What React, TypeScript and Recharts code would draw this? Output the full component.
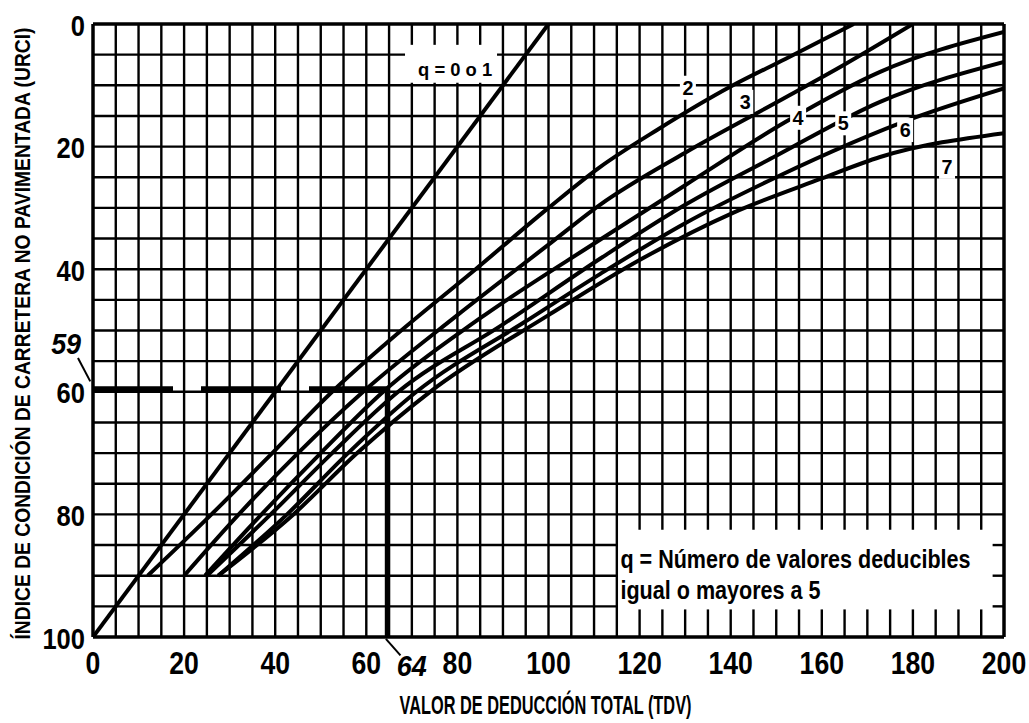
import React from 'react';
import { LineChart, Line, XAxis, YAxis, ReferenceLine, ReferenceDot } from 'recharts';

// ---- data ----
const xTicks = [0, 20, 40, 60, 80, 100, 120, 140, 160, 180, 200];
const yTicks = [0, 20, 40, 60, 80, 100];
const gridStep = 5;

const q01 = [{ x: 0, y: 100 }, { x: 100, y: 0 }];
const q2 = [
  { x: 12, y: 90 }, { x: 26, y: 80 }, { x: 40, y: 69.5 }, { x: 52.5, y: 60 }, { x: 64.5, y: 52 },
  { x: 84, y: 40 }, { x: 100, y: 30 }, { x: 111, y: 23.5 }, { x: 124, y: 17.2 }, { x: 140, y: 10.2 },
  { x: 152, y: 5.7 }, { x: 167, y: 0 },
];
const q3 = [
  { x: 20, y: 90 }, { x: 32, y: 80 }, { x: 45, y: 70 }, { x: 59.3, y: 60 }, { x: 80, y: 47.5 },
  { x: 100, y: 36 }, { x: 111.3, y: 29.5 }, { x: 130, y: 21 }, { x: 150, y: 12.8 }, { x: 165, y: 6.6 },
  { x: 180, y: 0 },
];
const q4 = [
  { x: 24.6, y: 90 }, { x: 37, y: 80 }, { x: 50, y: 70 }, { x: 63.7, y: 60 }, { x: 85, y: 48 },
  { x: 111.3, y: 35.2 }, { x: 130, y: 26.3 }, { x: 152, y: 16 }, { x: 172.8, y: 7.8 }, { x: 200, y: 1.3 },
];
const q5 = [
  { x: 25, y: 90 }, { x: 39, y: 80 }, { x: 52.5, y: 70 }, { x: 67, y: 60 }, { x: 90, y: 49 },
  { x: 111.3, y: 38.3 }, { x: 130, y: 29.5 }, { x: 150, y: 21.5 }, { x: 172.8, y: 12.7 }, { x: 200, y: 6.2 },
];
const q6 = [
  { x: 27.5, y: 90 }, { x: 42.6, y: 80 }, { x: 56, y: 70 }, { x: 71, y: 60 }, { x: 95, y: 48.5 },
  { x: 111.3, y: 40.8 }, { x: 130, y: 32.5 }, { x: 150, y: 25 }, { x: 180.7, y: 15.2 }, { x: 200, y: 10.5 },
];
const q7 = [
  { x: 27.5, y: 90 }, { x: 44, y: 80 }, { x: 58, y: 70 }, { x: 74, y: 60 }, { x: 100, y: 47.5 },
  { x: 120, y: 38.5 }, { x: 140.5, y: 30.8 }, { x: 160, y: 25.2 }, { x: 172.8, y: 21.7 }, { x: 200, y: 17.8 },
];
const curves = [q2, q3, q4, q5, q6, q7];

const curveLabels = [
  { x: 130.6, y: 10.4, text: '2' },
  { x: 143.2, y: 12.7, text: '3' },
  { x: 154.8, y: 15.3, text: '4' },
  { x: 164.7, y: 16.2, text: '5' },
  { x: 178.3, y: 17.3, text: '6' },
  { x: 187.5, y: 23.3, text: '7' },
];

const exampleURCI = 59;
const exampleTDV = 64;
const exampleLineY = 59.5;
const exampleLineX = 64.5;

const yTitle = 'ÍNDICE DE CONDICIÓN DE CARRETERA NO PAVIMENTADA (URCI)';
const xTitle = 'VALOR DE DEDUCCIÓN TOTAL (TDV)';
const noteLine1 = 'q = Número de valores deducibles';
const noteLine2 = 'igual o mayores a 5';
const q01Label = 'q = 0 o 1';

// blank (white) windows in the printed grid, in data units
const gridGaps = [
  { x1: 115, x2: 197.5, y1: 82.5, y2: 95.5 },
  { x1: 68.5, x2: 88.7, y1: 3.4, y2: 9.6 },
];

const xGrid: number[] = [];
for (let v = 0; v <= 200; v += gridStep) xGrid.push(v);
const yGrid: number[] = [];
for (let v = 0; v <= 100; v += gridStep) yGrid.push(v);

type Seg = { key: string; a: { x: number; y: number }; b: { x: number; y: number }; w: number };
const gridSegs: Seg[] = [];
xGrid.forEach((v) => {
  const w = v === 0 || v === 200 ? 3.5 : 2.4;
  let parts: [number, number][] = [[0, 100]];
  gridGaps.forEach((g) => {
    if (v > g.x1 && v < g.x2) {
      const next: [number, number][] = [];
      parts.forEach(([s, e]) => {
        if (g.y2 <= s || g.y1 >= e) next.push([s, e]);
        else {
          if (g.y1 > s) next.push([s, g.y1]);
          if (g.y2 < e) next.push([g.y2, e]);
        }
      });
      parts = next;
    }
  });
  parts.forEach(([s, e], i) => gridSegs.push({ key: `vx${v}_${i}`, a: { x: v, y: s }, b: { x: v, y: e }, w }));
});
yGrid.forEach((v) => {
  const w = v === 0 || v === 100 ? 3.5 : 2.4;
  let parts: [number, number][] = [[0, 200]];
  gridGaps.forEach((g) => {
    if (v > g.y1 && v < g.y2) {
      const next: [number, number][] = [];
      parts.forEach(([s, e]) => {
        if (g.x2 <= s || g.x1 >= e) next.push([s, e]);
        else {
          if (g.x1 > s) next.push([s, g.x1]);
          if (g.x2 < e) next.push([g.x2, e]);
        }
      });
      parts = next;
    }
  });
  parts.forEach(([s, e], i) => gridSegs.push({ key: `hy${v}_${i}`, a: { x: s, y: v }, b: { x: e, y: v }, w }));
});

const FONT = "'Liberation Sans', Arial, sans-serif";

function CText(props: any) {
  const { x, y, text, size, width, anchor = 'middle', italic = false, weight = 'bold', rotate = 0 } = props;
  return (
    <text
      x={x}
      y={y}
      fontFamily={FONT}
      fontSize={size}
      fontWeight={weight}
      fontStyle={italic ? 'italic' : 'normal'}
      textAnchor={anchor}
      dominantBaseline="central"
      textLength={width}
      lengthAdjust="spacingAndGlyphs"
      fill="#000"
      transform={rotate ? `rotate(${rotate} ${x} ${y})` : undefined}
    >
      {text}
    </text>
  );
}

const XTick = (p: any) => {
  const s = String(p.payload.value);
  return <CText x={p.x} y={p.y + 26} text={s} size={31} width={s.length * 14.8} />;
};
const YTick = (p: any) => {
  const s = String(p.payload.value);
  return <CText x={p.x - 8} y={p.y + 1} text={s} size={30} width={s.length * 14.2} anchor="end" />;
};

const YTitle = (p: any) => {
  const vb = p.viewBox;
  return <CText x={vb.x - 11} y={vb.y + vb.height / 2 + 3} text={yTitle} size={22} width={612} rotate={-90} />;
};
const XTitle = (p: any) => {
  const vb = p.viewBox;
  return <CText x={vb.x + vb.width / 2 - 3} y={vb.y + 68} text={xTitle} size={25} width={292} />;
};

const labelShape = (text: string, w: number, size: number, tw?: number) => (p: any) => (
  <g>
    <rect x={p.cx - w / 2} y={p.cy - 12} width={w} height={24} fill="#fff" />
    <CText x={p.cx} y={p.cy} text={text} size={size} width={tw} weight="bold" />
  </g>
);
const plainText = (text: string, size: number, width: number, italic = false, anchor = 'middle') => (p: any) => (
  <CText x={p.cx} y={p.cy} text={text} size={size} width={width} italic={italic} anchor={anchor} />
);

export default function App() {
  return (
    <div style={{ width: 1029, height: 723, background: '#fff' }}>
      <style>{'body{margin:0;}'}</style>
      <LineChart width={1029} height={723} margin={{ top: 24, right: 25, bottom: 56, left: 33 }}>
        <XAxis
          type="number"
          dataKey="x"
          domain={[0, 200]}
          ticks={xTicks}
          allowDataOverflow
          axisLine={false}
          tickLine={false}
          tickSize={0}
          tickMargin={0}
          height={30}
          tick={<XTick />}
          interval={0}
          label={<XTitle />}
        />
        <YAxis
          type="number"
          dataKey="y"
          domain={[0, 100]}
          reversed
          ticks={yTicks}
          allowDataOverflow
          axisLine={false}
          tickLine={false}
          tickSize={0}
          tickMargin={0}
          width={60}
          tick={<YTick />}
          interval={0}
          label={<YTitle />}
        />
        {gridSegs.map((s) => (
          <ReferenceLine key={s.key} segment={[s.a, s.b]} stroke="#000" strokeWidth={s.w} ifOverflow="visible" />
        ))}

        <Line data={q01} dataKey="y" type="linear" stroke="#000" strokeWidth={4} dot={false} isAnimationActive={false} />
        {curves.map((c, i) => (
          <Line key={'c' + i} data={c} dataKey="y" type="monotone" stroke="#000" strokeWidth={4} dot={false} isAnimationActive={false} />
        ))}

        <ReferenceLine
          segment={[{ x: 0, y: exampleLineY }, { x: exampleLineX, y: exampleLineY }]}
          stroke="#000"
          strokeWidth={5}
          strokeDasharray="80 28"
        />
        <ReferenceLine segment={[{ x: exampleLineX, y: exampleLineY }, { x: exampleLineX, y: 100 }]} stroke="#000" strokeWidth={4} />
        <ReferenceLine segment={[{ x: -3.3, y: 54.5 }, { x: -0.6, y: 58.3 }]} stroke="#000" strokeWidth={2} ifOverflow="visible" />
        <ReferenceLine segment={[{ x: 64.3, y: 100.3 }, { x: 67.5, y: 103 }]} stroke="#000" strokeWidth={2} ifOverflow="visible" />

        {curveLabels.map((l) => (
          <ReferenceDot key={'l' + l.text} x={l.x} y={l.y} r={0} ifOverflow="visible" shape={labelShape(l.text, 16, 20, 11)} />
        ))}
        <ReferenceDot x={79.5} y={7.5} r={0} ifOverflow="visible" shape={plainText(q01Label, 18, 74)} />
        <ReferenceDot x={115.8} y={87.2} r={0} ifOverflow="visible" shape={plainText(noteLine1, 25, 350, false, 'start')} />
        <ReferenceDot x={115.8} y={92.4} r={0} ifOverflow="visible" shape={plainText(noteLine2, 25, 200, false, 'start')} />
        <ReferenceDot x={-5.9} y={52.2} r={0} ifOverflow="visible" shape={plainText(String(exampleURCI), 30, 30, true)} />
        <ReferenceDot x={70} y={104.6} r={0} ifOverflow="visible" shape={plainText(String(exampleTDV), 30, 30, true)} />
      </LineChart>
    </div>
  );
}
